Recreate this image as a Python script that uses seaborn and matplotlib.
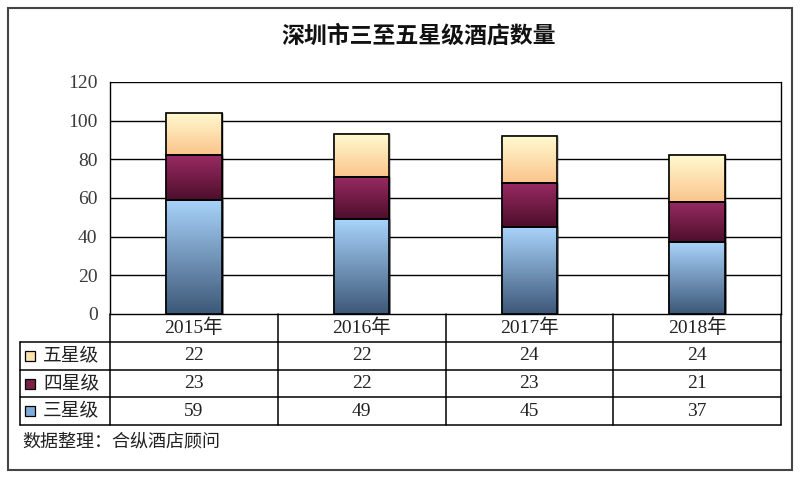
import numpy as np
import pandas as pd
import seaborn as sns
import matplotlib.pyplot as plt
from matplotlib.lines import Line2D
from matplotlib.patches import Rectangle
from matplotlib.colors import to_rgb

# data
years = ['2015年', '2016年', '2017年', '2018年']
series_names = ['五星级', '四星级', '三星级']
three_star = [59, 49, 45, 37]
four_star = [23, 22, 23, 21]
five_star = [22, 22, 24, 24]
y_ticks = [0, 20, 40, 60, 80, 100, 120]
title = '深圳市三至五星级酒店数量'
source = '数据整理：合纵酒店顾问'

# gradient top/bottom colours and legend key colours
grad = {
    '三星级': ('#a9d3fb', '#3d5878'),
    '四星级': ('#992a63', '#4d0f2a'),
    '五星级': ('#fffad0', '#fbc48c'),
}
key_col = {'五星级': '#fbe3ae', '四星级': '#7a1f45', '三星级': '#7fabd9'}

sns.set_style('white')
plt.rcParams['font.family'] = ['Liberation Serif', 'Noto Sans CJK SC', 'DejaVu Sans']
cjk = ['Noto Sans CJK SC', 'DejaVu Sans']

W, H = 800, 478
fig = plt.figure(figsize=(8, 4.78), dpi=100)


def fx(px):
    return px / W


def fy(py):
    return 1 - py / H


# plot area (pixel box)
L, R, T, B = 110, 781, 82, 314
ax = fig.add_axes([fx(L), fy(B), fx(R - L), (B - T) / H])

df = pd.DataFrame({'year': years, '三星级': three_star,
                   '四星级': four_star, '五星级': five_star})
df['c2'] = df['三星级'] + df['四星级']
df['c3'] = df['c2'] + df['五星级']

bw = 0.33
# stacked bars drawn back to front
sns.barplot(data=df, x='year', y='c3', color=key_col['五星级'], width=bw,
            ax=ax, edgecolor='black', linewidth=1, zorder=2)
sns.barplot(data=df, x='year', y='c2', color=key_col['四星级'], width=bw,
            ax=ax, edgecolor='black', linewidth=1, zorder=2)
sns.barplot(data=df, x='year', y='三星级', color=key_col['三星级'], width=bw,
            ax=ax, edgecolor='black', linewidth=1, zorder=2)

# gradient fill on each segment
bottoms = {'三星级': np.zeros(4), '四星级': df['三星级'].values,
           '五星级': df['c2'].values}
tops = {'三星级': df['三星级'].values, '四星级': df['c2'].values,
        '五星级': df['c3'].values}
n = 100
for name in series_names:
    ctop, cbot = np.array(to_rgb(grad[name][0])), np.array(to_rgb(grad[name][1]))
    t = np.linspace(0, 1, n)[:, None]
    img = (ctop * (1 - t) + cbot * t)[:, None, :]
    for i in range(4):
        b, tp = bottoms[name][i], tops[name][i]
        ax.imshow(img, extent=(i - bw / 2, i + bw / 2, b, tp), aspect='auto',
                  origin='upper', zorder=3, interpolation='bilinear')
        ax.add_patch(Rectangle((i - bw / 2, b), bw, tp - b, fill=False,
                               edgecolor='black', linewidth=1.2, zorder=4))

ax.set_xlim(-0.5, 3.5)
ax.set_ylim(0, 120)
ax.set_yticks(y_ticks)
ax.set_yticklabels([str(v) for v in y_ticks], fontsize=14, color='#3a3a3a')
ax.tick_params(axis='y', length=0, pad=9)
ax.set_xticks([])
ax.set_xlabel('')
ax.set_ylabel('')
for v in y_ticks[1:]:
    ax.axhline(v, color='black', linewidth=1, zorder=1)
for s in ax.spines.values():
    s.set_color('black')
    s.set_linewidth(1)
ax.spines['top'].set_visible(False)

# data table below plot area
rows_y = [314, 342, 370, 397, 425]
col_x = [L + (R - L) * k / 4 for k in range(5)]
lw = 1.1
for k, xx in enumerate(col_x):
    fig.add_artist(Line2D([fx(xx), fx(xx)], [fy(rows_y[0]), fy(rows_y[-1])],
                          color='black', linewidth=lw))
fig.add_artist(Line2D([fx(20), fx(20)], [fy(rows_y[1]), fy(rows_y[-1])],
                      color='black', linewidth=lw))
for yy in rows_y[1:]:
    fig.add_artist(Line2D([fx(20), fx(R)], [fy(yy), fy(yy)],
                          color='black', linewidth=lw))

for k, yr in enumerate(years):
    cx = (col_x[k] + col_x[k + 1]) / 2
    fig.text(fx(cx), fy((rows_y[0] + rows_y[1]) / 2), yr, ha='center',
             va='center', fontsize=14, color='#222222')

row_vals = {'五星级': five_star, '四星级': four_star, '三星级': three_star}
for r, name in enumerate(series_names):
    cy = (rows_y[r + 1] + rows_y[r + 2]) / 2
    fig.add_artist(Rectangle((fx(25), fy(cy + 5)), fx(10), 10 / H,
                             facecolor=key_col[name], edgecolor='black',
                             linewidth=0.9))
    fig.text(fx(43), fy(cy), name, ha='left', va='center', fontsize=13.5,
             color='#222222', family=cjk)
    for k, v in enumerate(row_vals[name]):
        cx = (col_x[k] + col_x[k + 1]) / 2
        fig.text(fx(cx), fy(cy), str(v), ha='center', va='center',
                 fontsize=14, color='#222222')

# title and source
fig.text(fx(419), fy(36), title, ha='center', va='center', fontsize=16.5,
         fontweight='bold', color='#111111', family=cjk)
fig.text(fx(22), fy(441), source, ha='left', va='center', fontsize=13,
         color='#222222', family=cjk)

# outer frame
fig.add_artist(Rectangle((fx(8), fy(470)), fx(784), 462 / H, fill=False,
                         edgecolor='#444444', linewidth=1.5))

fig.savefig('out.png', dpi=100)
